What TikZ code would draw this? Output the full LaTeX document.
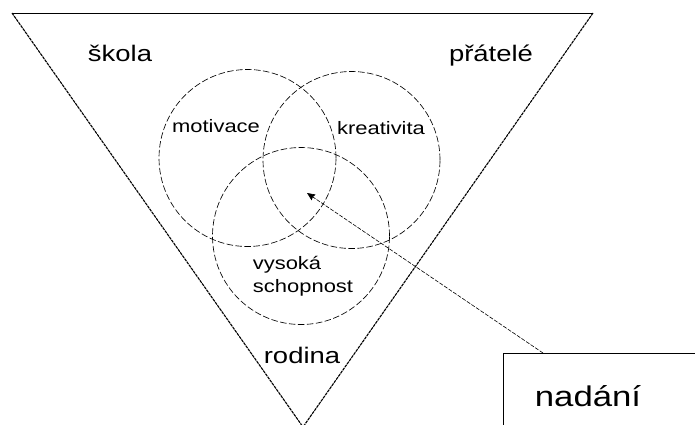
\documentclass[tikz,border=0pt]{standalone}
\usepackage{fontspec}
\setmainfont{Liberation Sans}[FakeStretch=1.22]
\usetikzlibrary{arrows.meta,calc}
\begin{document}
\begin{tikzpicture}[x=1pt,y=-1pt,
  ring/.style={circle,draw,line width=0.65pt,dash pattern=on 6.5pt off 2.5pt,minimum size=177pt,inner sep=0pt},
  biglabel/.style={anchor=base,inner sep=0pt,font=\fontsize{22.5}{24}\selectfont},
  smalllabel/.style={anchor=base,inner sep=0pt,font=\fontsize{18}{20}\selectfont},
  side/.style={line width=1.1pt,dash pattern=on 3pt off 0.8pt}]
\useasboundingbox (0,0) rectangle (695,424);
\clip (0,0) rectangle (695,424);
% triangle
\coordinate (tl) at (12,13);
\coordinate (tr) at (593,13);
\coordinate (ap) at (303,427);
\draw[line width=1pt] (tl) -- (tr);
\draw[side] (tl) -- (ap);
\draw[side] (tr) -- (ap);
% circles
\node[ring] (mot) at (247.5,158) {};
\node[ring] (kre) at (351.5,160) {};
\node[ring] (vys) at (301,236) {};
% labels
\node[biglabel] (skola) at (120,61) {škola};
\node[biglabel] (pratele) at (491,61) {přátelé};
\node[biglabel] (rodina) at (302,363) {rodina};
\node[smalllabel] (motl) at (216,132) {motivace};
\node[smalllabel] (krel) at (381,134) {kreativita};
\node[smalllabel] (vysl) at (287,269) {vysoká};
\node[smalllabel] (schl) at (303,292) {schopnost};
% box
\node[draw,line width=0.8pt,anchor=north west,minimum width=230pt,minimum height=90pt,inner sep=0pt] (box) at (503,353) {};
\node[anchor=base,inner sep=0pt,font=\fontsize{28.5}{30}\selectfont] (nadani) at (588,406) {nadání};
% arrow
\coordinate (tip) at (307,193);
\draw[line width=0.6pt,dash pattern=on 4pt off 1.5pt,-{Stealth[length=8pt,width=7pt,inset=1pt]}] ($(box.north west)+(40,0)$) -- (tip);
\end{tikzpicture}
\end{document}
